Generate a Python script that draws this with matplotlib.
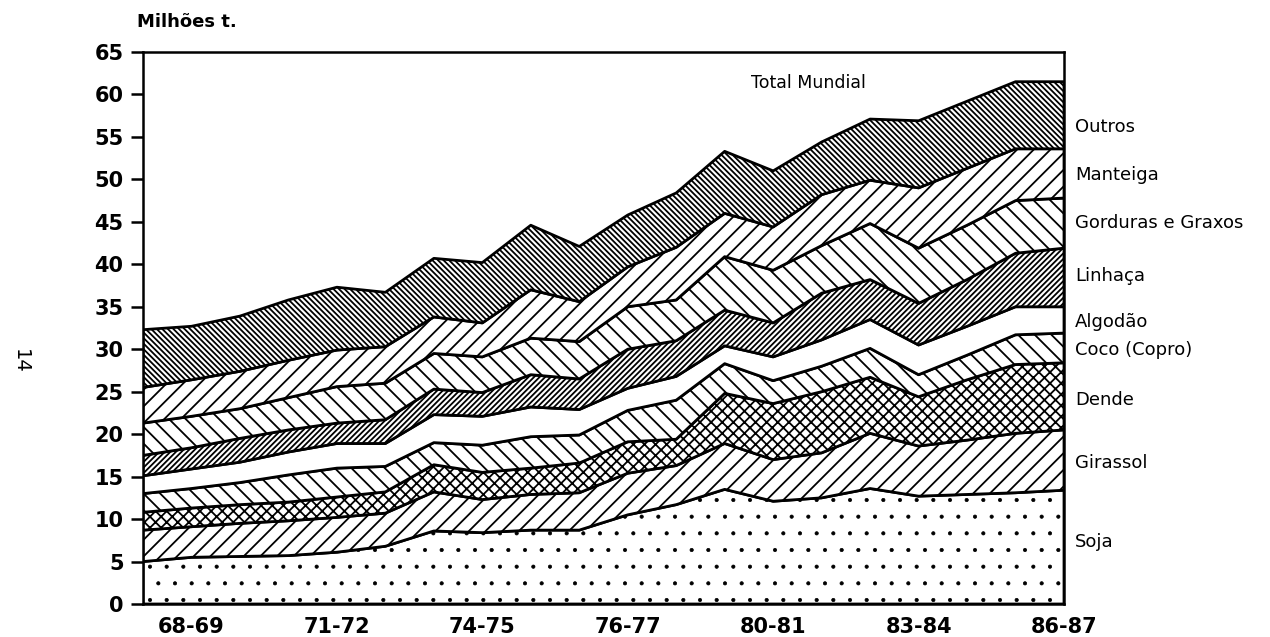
import matplotlib
matplotlib.use("Agg")
import matplotlib.pyplot as plt
import numpy as np

# ---------------------------------------------------------------------------
# Data: world oils & fats production, million t, one point per season.
# ---------------------------------------------------------------------------
seasons = ["67-68", "68-69", "69-70", "70-71", "71-72", "72-73", "73-74",
           "74-75", "75-76", "76-77", "77-78", "78-79", "79-80", "80-81",
           "81-82", "82-83", "83-84", "84-85", "85-86", "86-87"]

soja = [5.0, 5.5, 5.6, 5.7, 6.1, 6.8, 8.6, 8.4, 8.7, 8.7,
        10.5, 11.7, 13.5, 12.1, 12.5, 13.6, 12.7, 12.9, 13.1, 13.4]
girassol = [3.7, 3.6, 3.9, 4.1, 4.1, 3.9, 4.6, 3.9, 4.2, 4.4,
            4.9, 4.6, 5.4, 4.9, 5.3, 6.5, 5.9, 6.4, 7.0, 7.1]
dende = [2.1, 2.2, 2.2, 2.2, 2.4, 2.5, 3.2, 3.2, 3.1, 3.5,
         3.7, 3.1, 5.9, 6.6, 7.2, 6.6, 5.8, 7.1, 8.1, 7.9]
coco = [2.2, 2.3, 2.6, 3.2, 3.4, 3.0, 2.6, 3.2, 3.7, 3.3,
        3.7, 4.6, 3.5, 2.7, 3.0, 3.4, 2.6, 2.9, 3.5, 3.5]
algodao = [2.1, 2.3, 2.4, 2.7, 2.9, 2.7, 3.3, 3.4, 3.5, 3.0,
           2.6, 2.8, 2.1, 2.8, 3.1, 3.4, 3.5, 3.4, 3.3, 3.1]
linhaca = [2.4, 2.5, 2.8, 2.6, 2.4, 2.8, 3.0, 2.8, 3.8, 3.6,
           4.6, 4.2, 4.2, 4.0, 5.5, 4.7, 4.9, 5.5, 6.3, 6.9]
gorduras = [3.8, 3.7, 3.5, 3.8, 4.3, 4.3, 4.2, 4.2, 4.3, 4.4,
            5.0, 4.8, 6.3, 6.2, 5.6, 6.6, 6.5, 6.4, 6.2, 5.9]
manteiga = [4.2, 4.3, 4.4, 4.4, 4.3, 4.3, 4.3, 4.0, 5.7, 4.7,
            4.7, 6.2, 5.1, 5.1, 6.0, 5.1, 7.1, 6.7, 6.1, 5.8]
outros = [6.8, 6.3, 6.5, 7.1, 7.4, 6.4, 6.9, 7.1, 7.6, 6.5,
          6.1, 6.4, 7.3, 6.6, 6.2, 7.2, 7.9, 7.9, 7.9, 7.9]

layer_names = ["Soja", "Girassol", "Dende", "Coco (Copro)", "Algodão",
               "Linhaça", "Gorduras e Graxos", "Manteiga", "Outros"]
layer_values = [soja, girassol, dende, coco, algodao, linhaca,
                gorduras, manteiga, outros]
layer_hatches = [".", "//", "xxx", "\\\\", "", "//////", "\\\\", "//",
                 "\\\\\\\\\\\\"]

# label heights (million t) at the right-hand side, same order as layers
label_heights = [7.3, 16.6, 24.0, 29.9, 33.2, 38.6, 44.9, 50.5, 56.2]

tick_pos = [1, 4, 7, 10, 13, 16, 19]
tick_labels = ["68-69", "71-72", "74-75", "76-77", "80-81", "83-84", "86-87"]
y_ticks = list(range(0, 70, 5))

# ---------------------------------------------------------------------------
# Figure.
# ---------------------------------------------------------------------------
plt.rcParams["font.family"] = ["DejaVu Sans"]

fig = plt.figure(figsize=(12.7, 6.37), dpi=100)
ax = fig.add_axes([0.1126, 0.0518, 0.7252, 0.8666])

x = np.arange(len(seasons))
base = np.zeros(len(x))
for vals, hatch in zip(layer_values, layer_hatches):
    top = base + np.asarray(vals)
    # stipple dots drawn thinner than the line hatches
    plt.rcParams["hatch.linewidth"] = 0.5 if hatch == "." else 1.3
    ax.fill_between(x, base, top, facecolor="white", edgecolor="black",
                    hatch=hatch, linewidth=2.0)
    base = top

ax.set_xlim(0, len(seasons) - 1)
ax.set_ylim(0, 65)

ax.set_yticks(y_ticks)
ax.set_yticklabels([str(v) for v in y_ticks], fontsize=15, fontweight="bold")
ax.tick_params(axis="y", direction="out", length=9, width=1.8, pad=5)

ax.set_xticks(tick_pos)
ax.set_xticklabels(tick_labels, fontsize=15, fontweight="bold")
ax.tick_params(axis="x", length=0, pad=9)

for spine in ax.spines.values():
    spine.set_linewidth(1.8)

# right-hand layer labels
for name, h in zip(layer_names, label_heights):
    ax.text(19.23, h, name, ha="left", va="center", fontsize=13,
            clip_on=False)

ax.text(12.55, 61.3, "Total Mundial", ha="left", va="center", fontsize=12.5)
fig.text(0.108, 0.965, "Milhões t.", ha="left", va="center", fontsize=13,
         fontweight="bold")
fig.text(0.016, 0.432, "14", ha="center", va="center", fontsize=14,
         rotation=-90)

fig.savefig("out.png", dpi=100)
